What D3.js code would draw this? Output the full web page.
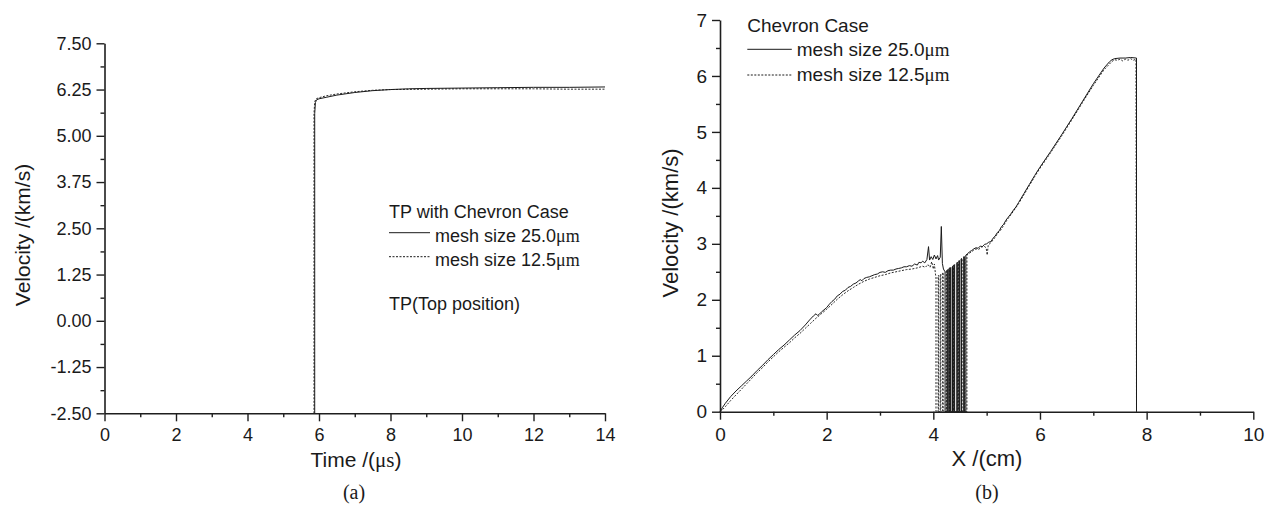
<!DOCTYPE html>
<html>
<head>
<meta charset="utf-8">
<script src="https://cdn.jsdelivr.net/npm/d3@7"></script>
<style>
  body { margin: 0; background: #fff; }
  text { font-family: "Liberation Sans", Arial, sans-serif; fill: #1a1a1a; }
  .serif { font-family: "Liberation Serif", "Times New Roman", serif; }
</style>
</head>
<body>
<svg id="fig" width="1266" height="505"></svg>
<script>
// ---- Panel (a): velocity history at the top position ----
const timeSolid = [[5.88,-2.5],[5.88,5.6],[5.9,5.9],[5.93,5.97],[6.0,6.0],[6.2,6.04],[6.5,6.1],[7.0,6.17],[7.5,6.22],[8.0,6.25],[8.5,6.27],[9,6.28],[10,6.29],[11,6.3],[12,6.31],[13,6.31],[14,6.32]];
const timeDashed = [[5.86,-2.5],[5.86,5.6],[5.88,5.92],[5.92,6.0],[6.0,6.03],[6.2,6.08],[6.5,6.13],[7.0,6.19],[7.5,6.23],[8.0,6.25],[9,6.26],[10,6.27],[11,6.27],[12,6.27],[13,6.26],[14,6.26]];

const timeTicks = [0,2,4,6,8,10,12,14];
const timeMinor = [1,3,5,7,9,11,13];
const velATicks = [-2.5,-1.25,0,1.25,2.5,3.75,5,6.25,7.5];
const velALabels = ["-2.50","-1.25","0.00","1.25","2.50","3.75","5.00","6.25","7.50"];
const velAMinor = [-1.875,-0.625,0.625,1.875,3.125,4.375,5.625,6.875];

// ---- Panel (b): velocity along the X direction ----
const posSolid = [[0,0],[0.05,0.08],[0.1,0.15],[0.2,0.27],[0.3,0.37],[0.4,0.46],[0.5,0.55],[0.6,0.64],[0.7,0.74],[0.8,0.83],[0.9,0.93],[1.0,1.02],[1.1,1.11],[1.2,1.19],[1.3,1.28],[1.4,1.37],[1.5,1.45],[1.6,1.55],[1.68,1.64],[1.75,1.71],[1.8,1.75],[1.83,1.72],[1.86,1.74],[1.9,1.78],[1.95,1.82],[2.0,1.86],[2.05,1.92],[2.1,1.97],[2.15,2.01],[2.2,2.07],[2.25,2.1],[2.3,2.15],[2.35,2.17],[2.4,2.22],[2.45,2.24],[2.5,2.28],[2.55,2.3],[2.6,2.34],[2.63,2.36],[2.66,2.34],[2.7,2.38],[2.75,2.4],[2.8,2.41],[2.85,2.43],[2.9,2.45],[2.95,2.46],[3.0,2.49],[3.05,2.5],[3.1,2.49],[3.15,2.52],[3.2,2.53],[3.25,2.53],[3.3,2.55],[3.35,2.56],[3.4,2.57],[3.45,2.59],[3.5,2.59],[3.55,2.61],[3.6,2.6],[3.65,2.64],[3.7,2.62],[3.73,2.67],[3.77,2.66],[3.8,2.69],[3.84,2.66],[3.88,2.72],[3.91,2.95],[3.93,2.71],[3.96,2.77],[3.99,2.72],[4.02,2.8],[4.05,2.73],[4.08,2.79],[4.1,2.71],[4.13,2.76],[4.15,3.31],[4.17,2.65],[4.19,2.55],[4.22,2.5],[4.22,0],[4.26,0],[4.26,2.53],[4.27,2.54],[4.27,0],[4.29,0],[4.29,2.55],[4.3,2.56],[4.3,0],[4.32,0],[4.32,2.57],[4.33,2.58],[4.33,0],[4.36,0],[4.36,2.6],[4.37,2.6],[4.37,0],[4.39,0],[4.39,2.62],[4.4,2.63],[4.4,0],[4.44,0],[4.44,2.66],[4.45,2.67],[4.45,0],[4.48,0],[4.48,2.7],[4.49,2.7],[4.49,0],[4.52,0],[4.52,2.73],[4.53,2.74],[4.53,0],[4.57,0],[4.57,2.77],[4.58,2.77],[4.58,0],[4.61,0],[4.61,2.8],[4.64,2.82],[4.68,2.86],[4.72,2.88],[4.76,2.91],[4.8,2.93],[4.84,2.92],[4.88,2.96],[4.92,2.95],[4.96,2.99],[5.0,3.0],[5.04,3.03],[5.08,3.04],[5.12,3.1],[5.16,3.14],[5.2,3.2],[5.24,3.24],[5.28,3.31],[5.32,3.35],[5.36,3.42],[5.4,3.47],[5.45,3.53],[5.5,3.6],[5.55,3.66],[5.6,3.74],[5.7,3.9],[5.8,4.06],[5.9,4.22],[6.0,4.37],[6.2,4.65],[6.4,4.94],[6.6,5.24],[6.8,5.55],[7.0,5.86],[7.1,6.0],[7.2,6.14],[7.3,6.25],[7.35,6.29],[7.4,6.31],[7.5,6.32],[7.6,6.32],[7.7,6.33],[7.81,6.32],[7.81,0]];
const posDashed = [[0,0],[0.05,0.04],[0.1,0.09],[0.2,0.2],[0.3,0.3],[0.4,0.4],[0.5,0.5],[0.6,0.6],[0.7,0.7],[0.8,0.79],[0.9,0.89],[1.0,0.98],[1.1,1.07],[1.2,1.15],[1.3,1.23],[1.4,1.32],[1.5,1.4],[1.6,1.49],[1.7,1.58],[1.8,1.67],[1.9,1.75],[2.0,1.83],[2.1,1.92],[2.2,2.01],[2.3,2.09],[2.4,2.16],[2.5,2.22],[2.6,2.28],[2.7,2.33],[2.8,2.37],[2.9,2.4],[3.0,2.43],[3.1,2.45],[3.2,2.48],[3.3,2.5],[3.4,2.52],[3.5,2.54],[3.6,2.55],[3.7,2.57],[3.8,2.6],[3.85,2.58],[3.9,2.63],[3.94,2.58],[3.97,2.68],[4.0,2.55],[4.02,2.64],[4.04,2.46],[4.05,2.41],[4.05,0],[4.09,0],[4.09,2.43],[4.1,2.44],[4.1,0],[4.13,0],[4.13,2.45],[4.14,2.46],[4.14,0],[4.175,0],[4.175,2.48],[4.185,2.49],[4.185,0],[4.24,0],[4.24,2.52],[4.25,2.53],[4.25,0],[4.3,0],[4.3,2.57],[4.31,2.57],[4.31,0],[4.38,0],[4.38,2.62],[4.39,2.62],[4.39,0],[4.46,0],[4.46,2.67],[4.47,2.68],[4.47,0],[4.53,0],[4.53,2.72],[4.54,2.73],[4.54,0],[4.58,0],[4.58,2.76],[4.59,2.77],[4.59,0],[4.63,0],[4.63,2.8],[4.67,2.83],[4.72,2.86],[4.76,2.89],[4.8,2.91],[4.85,2.9],[4.9,2.94],[4.95,2.96],[4.99,2.93],[5.01,2.8],[5.03,2.98],[5.08,3.02],[5.12,3.07],[5.16,3.12],[5.2,3.18],[5.25,3.23],[5.3,3.3],[5.35,3.38],[5.4,3.45],[5.5,3.58],[5.6,3.72],[5.7,3.88],[5.8,4.04],[5.9,4.2],[6.0,4.35],[6.2,4.63],[6.4,4.92],[6.6,5.22],[6.8,5.53],[7.0,5.83],[7.1,5.97],[7.2,6.11],[7.3,6.21],[7.35,6.26],[7.4,6.29],[7.45,6.28],[7.5,6.3],[7.55,6.27],[7.6,6.3],[7.65,6.28],[7.7,6.31],[7.75,6.28],[7.8,6.3],[7.81,0]];

const posTicks = [0,2,4,6,8,10];
const posMinor = [1,3,5,7,9];
const velBTicks = [0,1,2,3,4,5,6,7];
const velBMinor = [0.5,1.5,2.5,3.5,4.5,5.5,6.5];

const svg = d3.select("#fig");
const AXIS = "#1e1e1e";

function styleAxis(g, fontSize) {
  g.select(".domain").attr("stroke", AXIS).attr("stroke-width", 1.6);
  g.selectAll(".tick line").attr("stroke", AXIS).attr("stroke-width", 1.4);
  g.selectAll(".tick text").attr("fill", "#1a1a1a")
    .style("font-size", fontSize + "px")
    .style("font-family", '"Liberation Sans", Arial, sans-serif');
}

function drawPanel(p) {
  const x = d3.scaleLinear().domain(p.xDomain).range(p.xRange);
  const y = d3.scaleLinear().domain(p.yDomain).range(p.yRange);
  const x0 = p.xRange[0], y0 = p.yRange[0];

  // minor ticks first so the main axis lines sit on top
  svg.append("g").attr("transform", `translate(${x0},0)`)
    .call(d3.axisLeft(y).tickValues(p.yMinor).tickFormat("").tickSize(4).tickSizeOuter(0))
    .call(g => { g.select(".domain").remove(); g.selectAll("line").attr("stroke", AXIS).attr("stroke-width", 1.4); });
  svg.append("g").attr("transform", `translate(0,${y0})`)
    .call(d3.axisBottom(x).tickValues(p.xMinor).tickFormat("").tickSize(4).tickSizeOuter(0))
    .call(g => { g.select(".domain").remove(); g.selectAll("line").attr("stroke", AXIS).attr("stroke-width", 1.4); });

  // curves
  const line = d3.line().x(d => x(d[0])).y(d => y(d[1]));
  svg.append("path").datum(p.dashed).attr("d", line)
    .attr("fill", "none").attr("stroke", "#2a2a2a").attr("stroke-width", 1)
    .attr("stroke-dasharray", "2,1.5");
  svg.append("path").datum(p.solid).attr("d", line)
    .attr("fill", "none").attr("stroke", "#1a1a1a").attr("stroke-width", 1);

  // main axes
  svg.append("g").attr("transform", `translate(${x0},0)`)
    .call(d3.axisLeft(y).tickValues(p.yTicks).tickFormat((d, i) => p.yLabels[i])
      .tickSize(8).tickSizeOuter(0).tickPadding(5))
    .call(g => styleAxis(g, p.font));
  svg.append("g").attr("transform", `translate(0,${y0})`)
    .call(d3.axisBottom(x).tickValues(p.xTicks).tickFormat(d => String(d))
      .tickSize(8).tickSizeOuter(0).tickPadding(p.xPad))
    .call(g => styleAxis(g, p.font));
  return { x, y };
}

// Panel (a)
drawPanel({
  xDomain: [0, 14], xRange: [104.5, 605],
  yDomain: [-2.5, 7.5], yRange: [413.3, 43.3],
  xTicks: timeTicks, xMinor: timeMinor,
  yTicks: velATicks, yLabels: velALabels, yMinor: velAMinor,
  solid: timeSolid, dashed: timeDashed, font: 18, xPad: 7
});

// Panel (b)
drawPanel({
  xDomain: [0, 10], xRange: [720, 1253.3],
  yDomain: [0, 7], yRange: [411.7, 20],
  xTicks: posTicks, xMinor: posMinor,
  yTicks: velBTicks, yLabels: velBTicks.map(String), yMinor: velBMinor,
  solid: posSolid, dashed: posDashed, font: 19, xPad: 8
});

// axis titles
svg.append("text").attr("transform", "translate(30,235) rotate(-90)")
  .attr("text-anchor", "middle").style("font-size", "21px").text("Velocity /(km/s)");
svg.append("text").attr("transform", "translate(678,223) rotate(-90)")
  .attr("text-anchor", "middle").style("font-size", "22px").text("Velocity /(km/s)");

const tT = svg.append("text").attr("x", 356).attr("y", 467).attr("text-anchor", "middle").style("font-size", "21px");
tT.append("tspan").text("Time /(");
tT.append("tspan").attr("class", "serif").text("μs");
tT.append("tspan").text(")");

svg.append("text").attr("x", 987).attr("y", 466).attr("text-anchor", "middle")
  .style("font-size", "22px").text("X /(cm)");

// panel captions
svg.append("text").attr("class", "serif").attr("x", 354).attr("y", 499)
  .attr("text-anchor", "middle").style("font-size", "20px").text("(a)");
svg.append("text").attr("class", "serif").attr("x", 987).attr("y", 499)
  .attr("text-anchor", "middle").style("font-size", "20px").text("(b)");

// legends
function legend(o) {
  svg.append("text").attr("x", o.x).attr("y", o.titleY).style("font-size", o.font + "px").text(o.title);
  o.rows.forEach(r => {
    svg.append("line").attr("x1", o.x).attr("x2", o.x + o.len).attr("y1", r.ly).attr("y2", r.ly)
      .attr("stroke", "#1a1a1a").attr("stroke-width", 1)
      .attr("stroke-dasharray", r.dashed ? "2,1.5" : null);
    const t = svg.append("text").attr("x", o.x + o.len + 5).attr("y", r.ty).style("font-size", o.font + "px");
    t.append("tspan").text(r.label);
    t.append("tspan").attr("class", "serif").text("μm");
  });
}

legend({
  x: 389, len: 41, font: 18, title: "TP with Chevron Case", titleY: 218,
  rows: [
    { label: "mesh size 25.0", ly: 232.7, ty: 241.7, dashed: false },
    { label: "mesh size 12.5", ly: 256.7, ty: 265.7, dashed: true }
  ]
});
svg.append("text").attr("x", 389).attr("y", 309.5).style("font-size", "18px").text("TP(Top position)");

legend({
  x: 747.3, len: 44.5, font: 19, title: "Chevron Case", titleY: 32.3,
  rows: [
    { label: "mesh size 25.0", ly: 49.3, ty: 56, dashed: false },
    { label: "mesh size 12.5", ly: 75, ty: 81, dashed: true }
  ]
});
</script>
</body>
</html>
